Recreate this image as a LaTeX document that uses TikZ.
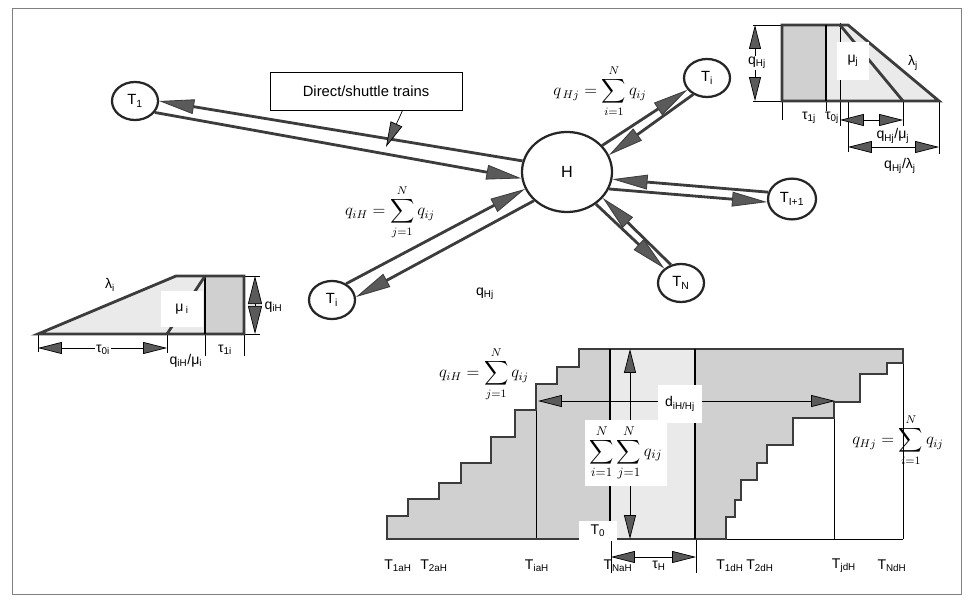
\documentclass[tikz,border=0pt]{standalone}
\usepackage{amsmath}
\usepackage{fontspec}
\setmainfont{Liberation Sans}
\usetikzlibrary{arrows.meta, shapes.geometric}
\definecolor{darkline}{RGB}{60, 60, 60}
\definecolor{tipfill}{RGB}{90, 90, 90}
\definecolor{shadedark}{RGB}{208, 208, 208}
\definecolor{shadelight}{RGB}{234, 234, 234}

\begin{document}
\begin{tikzpicture}[x=0.025cm, y=-0.025cm]
    \tikzstyle{terminal} = [ellipse, draw=black!85, line width=1.6pt, fill=white, inner sep=0pt, minimum width=1.15cm, minimum height=0.95cm, font=\fontsize{10.5}{12}\selectfont]
    \tikzstyle{hubnode} = [terminal, minimum width=2.25cm, minimum height=2cm, font=\fontsize{11.5}{13}\selectfont]
    \tikzstyle{rail} = [line width=2pt, draw=darkline, -{Triangle[length=25pt, width=10.5pt, line width=0.6pt, fill=tipfill]}]
    \tikzstyle{outline} = [line width=2pt, draw=darkline]
    \tikzstyle{divider} = [line width=2pt, draw=black]
    \tikzstyle{guide} = [line width=0.5pt, draw=black]
    \tikzstyle{dim} = [guide, {Triangle[length=17pt, width=8.5pt, fill=tipfill]}-{Triangle[length=17pt, width=8.5pt, fill=tipfill]}]
    \tikzstyle{lbl} = [font=\fontsize{10}{12}\selectfont, inner sep=1pt]
    \tikzstyle{tag} = [lbl, fill=white]
    \tikzstyle{formula} = [inner sep=1pt, font=\fontsize{12}{14}\selectfont]

    \useasboundingbox (0,0) rectangle (965,602);
    \draw[gray, line width=0.6pt] (12,8) rectangle (961,594);

    % hub and terminals
    \node (hub) [hubnode] at (567,172) {H};
    \node (t1) [terminal] at (135,101) {T\textsubscript{1}};
    \node (tout) [terminal] at (707,78) {T\textsubscript{i}};
    \node (tnext) [terminal, minimum width=1.2cm, minimum height=1.02cm] at (792,199) {T\textsubscript{I+1}};
    \node (tn) [terminal] at (681,283) {T\textsubscript{N}};
    \node (tin) [terminal] at (332,300) {T\textsubscript{i}};

    \draw[rail] (hub.166) -- (t1.0);
    \draw[rail] (t1.-30) -- (hub.188);
    \draw[rail] (hub.37) -- (tout.211);
    \draw[rail] (tout.230) -- (hub.22);
    \draw[rail] (tnext.164) -- (hub.-9);
    \draw[rail] (hub.-22) -- (tnext.187);
    \draw[rail] (tn.119) -- (hub.-36);
    \draw[rail] (hub.-48) -- (tn.139);
    \draw[rail] (tin.49) -- (hub.202);
    \draw[rail] (hub.221) -- (tin.7);

    \node (shuttle) [draw, line width=0.6pt, minimum width=4.8cm, minimum height=0.95cm, font=\fontsize{10.5}{12}\selectfont] at (366,91) {Direct/shuttle trains};
    \coordinate (hit) at (386,147);
    \draw[guide, -{Triangle[length=18pt, width=9pt, fill=tipfill]}] (shuttle.332) -- (hit);

    \node (qhjsum) [formula] at (600,91) {$\displaystyle q_{\,Hj}=\sum_{i=1}^{N} q_{ij}$};
    \node (qihsum) [formula] at (390,212) {$\displaystyle q_{iH}=\sum_{j=1}^{N} q_{ij}$};
    \node (qhj) [lbl] at (485,294) {q\textsubscript{Hj}};

    % departure wedge (top right)
    \fill[shadedark] (782,25) rectangle (826,101);
    \fill[shadelight] (826,25) -- (848,25) -- (939,101) -- (826,101) -- cycle;
    \draw[guide] (753,25) -- (782,25);
    \draw[guide] (753,101) -- (782,101);
    \draw[guide] (782,101) -- (782,120);
    \draw[guide] (826,101) -- (826,122);
    \draw[guide] (840,23) -- (840,126);
    \draw[guide] (848,101) -- (848,152);
    \draw[guide] (903,101) -- (903,126);
    \draw[guide] (939,101) -- (939,154);
    \draw[outline] (782,25) -- (848,25) -- (939,101) -- (782,101) -- cycle;
    \draw[divider] (826,25) -- (826,101);
    \draw[outline] (840,25) -- (903,101);
    \node (muj) [tag, minimum width=0.8cm, minimum height=0.95cm] at (853,61) {μ\textsubscript{j}};
    \node (lamj) [lbl] at (913,63) {λ\textsubscript{j}};
    \draw[dim] (755,25) -- (755,101);
    \node (qhjside) [tag] at (757,63) {q\textsubscript{Hj}};
    \draw[dim] (840,120) -- (903,120);
    \draw[dim] (848,147) -- (939,147);
    \node (tau1j) [lbl] at (809,118) {τ\textsubscript{1j}};
    \node (tau0j) [lbl, fill=white, inner sep=0.5pt] at (832,118) {τ\textsubscript{0j}};
    \node (qhjmu) [lbl] at (893,136) {q\textsubscript{Hj}/μ\textsubscript{j}};
    \node (qhjlam) [lbl] at (900,166) {q\textsubscript{Hj}/λ\textsubscript{j}};

    % arrival wedge (left)
    \fill[shadelight] (38,334) -- (176,276) -- (205,276) -- (205,334) -- cycle;
    \fill[shadedark] (205,276) rectangle (244,334);
    \draw[guide] (244,276) -- (260,276);
    \draw[guide] (244,334) -- (260,334);
    \draw[guide] (38,334) -- (38,352);
    \draw[guide] (167,334) -- (167,353);
    \draw[guide] (205,334) -- (205,356);
    \draw[guide] (244,334) -- (244,356);
    \draw[outline] (38,334) -- (176,276) -- (244,276) -- (244,334) -- cycle;
    \draw[divider] (205,276) -- (205,334);
    \draw[outline] (167,334) -- (205,276);
    \node (mui) [tag, minimum width=1.05cm, minimum height=0.9cm] at (182,309) {μ\,\textsubscript{i}};
    \node (lami) [lbl] at (110,285) {λ\textsubscript{i}};
    \draw[dim, {Triangle[length=20pt, width=10pt, fill=tipfill]}-{Triangle[length=20pt, width=10pt, fill=tipfill]}] (255,276) -- (255,334);
    \node (qih) [lbl, anchor=west] at (263,307) {q\textsubscript{iH}};
    \draw[dim] (38,348) -- (167,348);
    \node (tau0i) [tag] at (103,350) {τ\textsubscript{0i}};
    \node (qihmu) [lbl] at (186,361) {q\textsubscript{iH}/μ\textsubscript{i}};
    \node (tau1i) [lbl] at (225,350) {τ\textsubscript{1i}};

    % cumulative arrivals and departures at the hub
    \fill[shadedark] (387,539) -- (387,516) -- (408,516) -- (408,499) -- (439,499) -- (439,483) -- (461,483) -- (461,463) -- (491,463) -- (491,437) -- (515,437) -- (515,410) -- (536,410) -- (536,384) -- (557,384) -- (557,367) -- (579,367) -- (579,349) -- (610,349) -- (610,539) -- cycle;
    \fill[shadelight] (610,349) rectangle (695,539);
    \fill[shadedark] (695,349) -- (903,349) -- (903,363) -- (887,363) -- (887,374) -- (860,374) -- (860,402) -- (834,402) -- (834,418) -- (793,418) -- (793,445) -- (767,445) -- (767,463) -- (757,463) -- (757,480) -- (741,480) -- (741,500) -- (735,500) -- (735,517) -- (726,517) -- (726,539) -- (695,539) -- cycle;
    \draw[guide] (536,410) -- (536,539);
    \draw[guide] (834,418) -- (834,539);
    \draw[guide] (903,363) -- (903,539);
    \draw[guide] (726,539) -- (903,539);
    \draw[guide] (611,539) -- (611,573);
    \draw[guide] (696,539) -- (696,573);
    \draw[outline] (387,539) -- (387,516) -- (408,516) -- (408,499) -- (439,499) -- (439,483) -- (461,483) -- (461,463) -- (491,463) -- (491,437) -- (515,437) -- (515,410) -- (536,410) -- (536,384) -- (557,384) -- (557,367) -- (579,367) -- (579,349) -- (903,349) -- (903,363) -- (887,363) -- (887,374) -- (860,374) -- (860,402) -- (834,402) -- (834,418) -- (793,418) -- (793,445) -- (767,445) -- (767,463) -- (757,463) -- (757,480) -- (741,480) -- (741,500) -- (735,500) -- (735,517) -- (726,517) -- (726,539) -- cycle;
    \draw[divider] (610,349) -- (610,539);
    \draw[divider] (695,349) -- (695,539);
    \draw[dim] (538,401) -- (835,401);
    \draw[dim] (630,349) -- (630,539);
    \node (dist) [tag, minimum width=1.1cm, minimum height=0.95cm] at (680,404) {d\textsubscript{iH/Hj}};
    \node (total) [tag, minimum width=2.05cm, minimum height=1.65cm, font=\fontsize{12.5}{14}\selectfont] at (626,453) {$\displaystyle\sum_{i=1}^{N}\sum_{j=1}^{N} q_{ij}$};
    \node (tzero) [tag, minimum width=0.95cm, minimum height=0.5cm] at (598,531) {T\textsubscript{0}};
    \node (qihcum) [formula] at (484,374) {$\displaystyle q_{iH}=\sum_{j=1}^{N} q_{ij}$};
    \node (qhjcum) [formula] at (898,440) {$\displaystyle q_{Hj}=\sum_{i=1}^{N} q_{ij}$};
    \draw[dim] (611,557) -- (696,557);
    \node (tauh) [lbl] at (659,566) {τ\textsubscript{H}};

    \node (a1) [lbl] at (398,566) {T\textsubscript{1aH}};
    \node (a2) [lbl] at (434,566) {T\textsubscript{2aH}};
    \node (ai) [lbl] at (537,566) {T\textsubscript{iaH}};
    \node (an) [lbl] at (618,566) {T\textsubscript{NaH}};
    \node (d1) [lbl] at (730,566) {T\textsubscript{1dH}};
    \node (d2) [lbl] at (760,566) {T\textsubscript{2dH}};
    \node (dj) [lbl] at (844,566) {T\textsubscript{jdH}};
    \node (dn) [lbl] at (892,566) {T\textsubscript{NdH}};
\end{tikzpicture}
\end{document}
